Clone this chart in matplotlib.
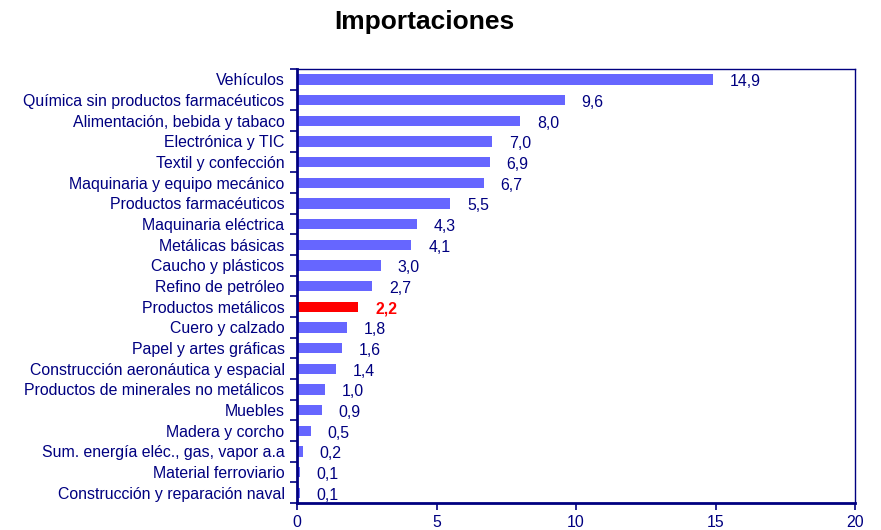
"""
Importaciones: horizontal bar chart by sector.
"""

import matplotlib

matplotlib.use("Agg")
import matplotlib.pyplot as plt
import numpy as np

plt.rcParams["font.family"] = ["Liberation Sans", "DejaVu Sans"]

categories = [
    "Vehículos",
    "Química sin productos farmacéuticos",
    "Alimentación, bebida y tabaco",
    "Electrónica y TIC",
    "Textil y confección",
    "Maquinaria y equipo mecánico",
    "Productos farmacéuticos",
    "Maquinaria eléctrica",
    "Metálicas básicas",
    "Caucho y plásticos",
    "Refino de petróleo",
    "Productos metálicos",
    "Cuero y calzado",
    "Papel y artes gráficas",
    "Construcción aeronáutica y espacial",
    "Productos de minerales no metálicos",
    "Muebles",
    "Madera y corcho",
    "Sum. energía eléc., gas, vapor a.a",
    "Material ferroviario",
    "Construcción y reparación naval",
]
values = [14.9, 9.6, 8.0, 7.0, 6.9, 6.7, 5.5, 4.3, 4.1, 3.0, 2.7,
          2.2, 1.8, 1.6, 1.4, 1.0, 0.9, 0.5, 0.2, 0.1, 0.1]
highlight = "Productos metálicos"

navy = "#000080"
blue = "#6666FF"
red = "#FF0000"
fs = 11.4

fig = plt.figure(figsize=(8.81, 5.30), dpi=100)
ax = fig.add_axes([297 / 881, 1 - 503 / 530, (855 - 297) / 881, (503 - 69) / 530])

n = len(categories)
y = np.arange(n)
colors = [red if c == highlight else blue for c in categories]
ax.barh(y, values, height=0.5, color=colors, linewidth=0)

for yi, v, c in zip(y, values, categories):
    hi = c == highlight
    ax.text(v + 0.6, yi + 0.05, f"{v:.1f}".replace(".", ","), va="center_baseline",
            ha="left", fontsize=fs, color=red if hi else navy,
            fontweight="bold" if hi else "normal")

ax.set_ylim(n - 0.5, -0.5)
ax.set_xlim(0, 20)
ax.set_xticks([0, 5, 10, 15, 20])
ax.set_yticks(y)
ax.set_yticklabels(categories)
ax.set_yticks(np.arange(n + 1) - 0.5, minor=True)
ax.tick_params(axis="y", which="major", length=0, pad=9, labelsize=fs, labelcolor=navy)
ax.tick_params(axis="y", which="minor", length=5, width=1.2, color=navy, direction="out")
ax.tick_params(axis="x", length=5, width=1.2, color=navy, labelsize=fs, labelcolor=navy)

for side, lw in (("left", 2), ("bottom", 2), ("top", 1), ("right", 1)):
    ax.spines[side].set_color(navy)
    ax.spines[side].set_linewidth(lw)

fig.text(424 / 881, 1 - 22 / 530, "Importaciones", ha="center", va="center",
         fontsize=19, fontweight="bold", color="black")

fig.savefig("out.png", dpi=100)
